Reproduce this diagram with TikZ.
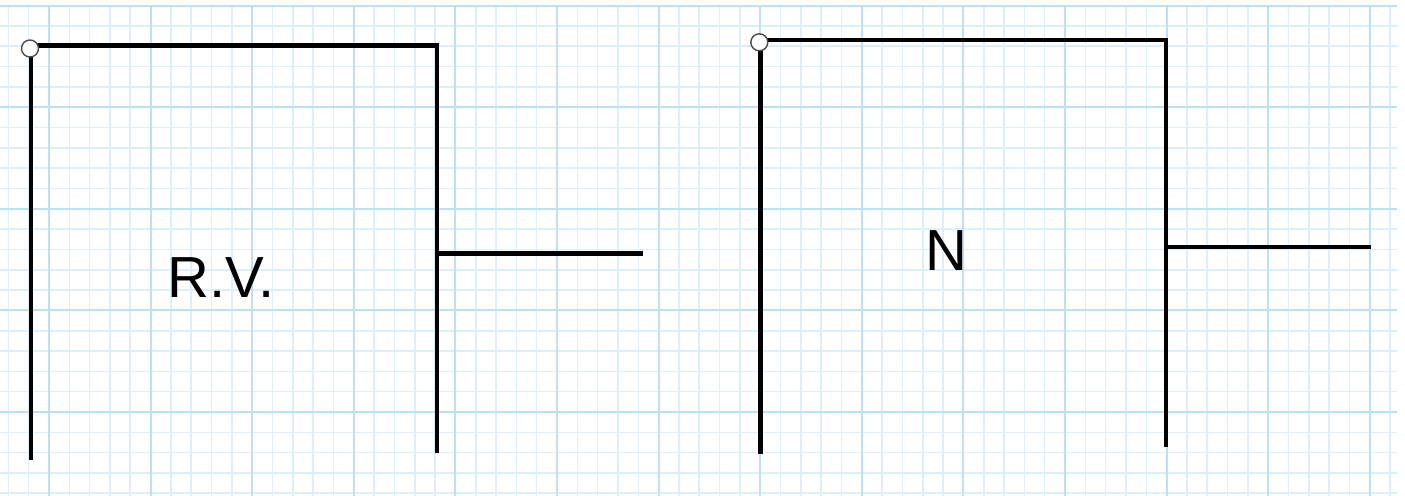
\documentclass[tikz,border=0pt]{standalone}
\usepackage{fontspec}
\setmainfont{Liberation Sans}
\usetikzlibrary{positioning}
\definecolor{gridminor}{HTML}{DCEFFA}
\definecolor{gridmajor}{HTML}{BDE0F4}

\begin{document}
\begin{tikzpicture}[
  x=0.02cm, y=-0.02cm,
  wire/.style ={line width=2.5pt, black},
  pin/.style  ={circle, draw=black!70, fill=white, line width=0.8pt, minimum size=0.34cm, inner sep=0pt},
  lbl/.style  ={font=\fontsize{33}{36}\selectfont, inner sep=0pt},
]
  \useasboundingbox (0,0) rectangle (1405,496);

  % graph paper
  \foreach \k in {-2,...,66}
    \draw[gridminor, line width=0.9pt] ({49+20.32*\k},5.6) -- ({49+20.32*\k},496);
  \foreach \j in {0,...,24}
    \draw[gridminor, line width=0.9pt] (0,{5.6+20.32*\j}) -- (1397,{5.6+20.32*\j});
  \foreach \k in {0,5,...,65}
    \draw[gridmajor, line width=1.1pt] ({49+20.32*\k},5.6) -- ({49+20.32*\k},496);
  \foreach \j in {0,5,...,20}
    \draw[gridmajor, line width=1.1pt] (0,{5.6+20.32*\j}) -- (1397,{5.6+20.32*\j});

  % left frame
  \coordinate (rvlb) at (31,460);
  \coordinate (rvlt) at (31,45.5);
  \coordinate (rvrt) at (437,45.5);
  \coordinate (rvrb) at (437,453);
  \coordinate (rvtap) at (437,253.5);
  \coordinate (rvout) at (643,253.5);
  \draw[wire] (rvlb) -- (rvlt) -- (rvrt) -- (rvrb);
  \draw[wire] (rvtap) -- (rvout);
  \node[pin] (rvpin) at (30,48.5) {};
  \node[lbl] (rv) at (221,278) {R.V.};

  % right frame
  \coordinate (nlb) at (760.3,454);
  \coordinate (nlt) at (760.3,40.3);
  \coordinate (nrt) at (1166,40.3);
  \coordinate (nrb) at (1166,447);
  \coordinate (ntap) at (1166,247);
  \coordinate (nout) at (1371,247);
  \draw[wire] (nlb) -- (nlt) -- (nrt) -- (nrb);
  \draw[wire] (ntap) -- (nout);
  \node[pin] (npin) at (759.3,42.3) {};
  \node[lbl] (n) at (946.5,251) {N};
\end{tikzpicture}
\end{document}
